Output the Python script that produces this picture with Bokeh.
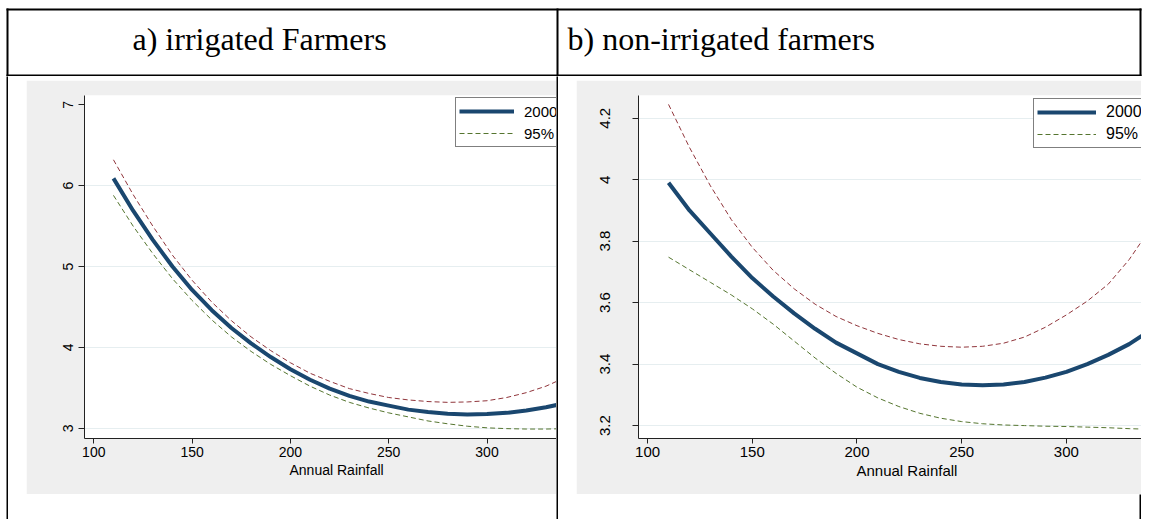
from bokeh.plotting import figure
from bokeh.layouts import row, column
from bokeh.models import (Spacer, Legend, LegendItem, Range1d, FixedTicker,
                          ColumnDataSource, Title)
from bokeh.core.properties import value
from bokeh.embed import file_html
from bokeh.resources import INLINE

# ---------------------------------------------------------------- data
rainfall = [110, 120, 130, 140, 150, 160, 170, 180, 190, 200, 210, 220,
            230, 240, 250, 260, 270, 280, 290, 300, 310, 320, 330, 340]

# a) irrigated farmers: fitted values and 95% band
irr_fit = [6.09, 5.69, 5.33, 5.00, 4.71, 4.46, 4.24, 4.05, 3.88, 3.73, 3.60, 3.49,
           3.40, 3.33, 3.28, 3.23, 3.20, 3.18, 3.17, 3.175, 3.19, 3.22, 3.26, 3.31]
irr_upper = [6.32, 5.89, 5.50, 5.14, 4.83, 4.56, 4.33, 4.13, 3.96, 3.81, 3.68, 3.58,
             3.49, 3.43, 3.38, 3.35, 3.33, 3.32, 3.325, 3.34, 3.38, 3.44, 3.52, 3.63]
irr_lower = [5.88, 5.50, 5.16, 4.85, 4.58, 4.34, 4.13, 3.95, 3.79, 3.65, 3.52, 3.41,
             3.32, 3.25, 3.19, 3.14, 3.09, 3.055, 3.025, 3.005, 2.995, 2.99, 2.99, 2.995]

# b) non-irrigated farmers: fitted values and 95% band
non_fit = [3.99, 3.90, 3.825, 3.75, 3.68, 3.62, 3.565, 3.515, 3.47, 3.435, 3.40, 3.375,
           3.355, 3.342, 3.334, 3.331, 3.334, 3.342, 3.356, 3.375, 3.40, 3.43, 3.465, 3.51]
non_upper = [4.245, 4.105, 3.98, 3.87, 3.78, 3.705, 3.645, 3.595, 3.555, 3.525, 3.50, 3.48,
             3.466, 3.458, 3.455, 3.458, 3.468, 3.488, 3.52, 3.56, 3.605, 3.66, 3.74, 3.84]
non_lower = [3.748, 3.707, 3.666, 3.625, 3.58, 3.53, 3.475, 3.42, 3.37, 3.325, 3.29, 3.262,
             3.24, 3.224, 3.213, 3.206, 3.202, 3.20, 3.198, 3.197, 3.195, 3.193, 3.19, 3.188]

x_ticks = [100, 150, 200, 250, 300, 350]
irr_y_ticks = [3, 4, 5, 6, 7]
irr_grid_ticks = [3, 4, 5, 6]
non_y_ticks = [3.2, 3.4, 3.6, 3.8, 4.0, 4.2]
panel_titles = ["a) irrigated Farmers", "b) non-irrigated farmers"]
legend_labels = ["2000", "95%"]
x_title = "Annual Rainfall"

# ---------------------------------------------------------------- styles
GRAPH_BG = "#efefef"
FIT_COLOR = "#1a476f"
UPPER_COLOR = "#90353b"
LOWER_COLOR = "#55752f"
GRID_COLOR = "#e6eef0"
SANS = "Liberation Sans"
SERIF = "Liberation Serif"


def blank(width, height, color):
    f = figure(width=width, height=height, toolbar_location=None,
               output_backend="svg", x_axis_type=None, y_axis_type=None,
               min_border=0, background_fill_color=color,
               border_fill_color=color, outline_line_color=None)
    f.grid.visible = False
    return f


def panel(width, border_left, xr, yr, yticks, gridticks, fit, upper, lower,
          font_px, legend_px, glyph_w, legend_xy, ylabel_gap, title_offset):
    p = figure(width=width, height=414, toolbar_location=None,
               output_backend="svg",
               x_range=Range1d(*xr), y_range=Range1d(*yr),
               min_border_left=border_left, min_border_right=0,
               min_border_top=15, min_border_bottom=56,
               background_fill_color="white", border_fill_color=GRAPH_BG,
               outline_line_color=None)
    src = ColumnDataSource(dict(x=rainfall, fit=fit, upper=upper, lower=lower))
    r_up = p.line("x", "upper", source=src, line_color=UPPER_COLOR,
                  line_width=1, line_dash="5 3")
    r_lo = p.line("x", "lower", source=src, line_color=LOWER_COLOR,
                  line_width=1, line_dash="5 3")
    r_fit = p.line("x", "fit", source=src, line_color=FIT_COLOR, line_width=4)

    p.xgrid.visible = False
    p.ygrid.ticker = FixedTicker(ticks=gridticks)
    p.ygrid.grid_line_color = GRID_COLOR
    p.ygrid.grid_line_width = 1

    for ax in (p.xaxis[0], p.yaxis[0]):
        ax.axis_line_color = "#222222"
        ax.axis_line_width = 1
        ax.major_tick_line_color = "#222222"
        ax.major_tick_in = 0
        ax.minor_tick_line_color = None
        ax.major_label_text_font = SANS
        ax.major_label_text_font_size = f"{font_px}px"
        ax.major_label_text_color = "black"

    p.xaxis.ticker = FixedTicker(ticks=x_ticks)
    p.xaxis.major_tick_out = 5
    p.xaxis.major_label_standoff = 3

    # x-axis title, placed for the full (wider) plot region of the graph
    p.add_layout(Title(text=x_title, align="left", offset=title_offset,
                       standoff=0, text_font=SANS, text_font_size=f"{font_px}px",
                       text_font_style="normal", text_color="black"), "below")

    p.yaxis.ticker = FixedTicker(ticks=yticks)
    p.yaxis.major_tick_out = 6
    p.yaxis.major_label_orientation = "parallel"
    p.yaxis.major_label_standoff = ylabel_gap

    legend = Legend(items=[LegendItem(label=legend_labels[0], renderers=[r_fit]),
                           LegendItem(label=legend_labels[1], renderers=[r_lo])],
                    location=legend_xy, orientation="vertical",
                    label_text_font=SANS, label_text_font_size=f"{legend_px}px",
                    label_text_color="black",
                    glyph_width=glyph_w, glyph_height=20, label_height=20,
                    label_standoff=10, padding=3, spacing=2, margin=0,
                    border_line_color="black", border_line_width=1,
                    background_fill_color="white", background_fill_alpha=1)
    p.add_layout(legend)
    return p


# ---------------------------------------------------------------- header row
head = figure(width=1149, height=76, toolbar_location=None, output_backend="svg",
              x_range=Range1d(0, 1149), y_range=Range1d(76, 0),
              x_axis_type=None, y_axis_type=None, min_border=0,
              background_fill_color="white", border_fill_color="white",
              outline_line_color=None)
head.grid.visible = False
rules = dict(left=[6, 6, 6, 556, 1139], right=[1141, 1141, 8, 558, 1141],
             top=[8, 74, 8, 8, 8], bottom=[10, 76, 76, 76, 76])
head.quad(source=ColumnDataSource(rules), left="left", right="right",
          top="top", bottom="bottom", fill_color="black", line_color=None)
head.text(x=[132, 567], y=[38, 38], text=panel_titles,
          text_font=value(SERIF), text_font_size="32px", text_color="black",
          text_align="left", text_baseline="alphabetic")

# ---------------------------------------------------------------- panels
pa = panel(530, 58, (95.27, 335.35), (2.873, 7.115), irr_y_ticks, irr_grid_ticks,
           irr_fit, irr_upper, irr_lower, 14, 15, 55, (371, 291), 5, 205)
pb = panel(565, 62, (95.65, 335.9), (3.158, 4.274), non_y_ticks, non_y_ticks,
           non_fit, non_upper, non_lower, 15, 16, 59, (395, 290), 22, 218)

H = 443
body = row(
    Spacer(width=6, height=H),
    blank(2, H, "black"),
    Spacer(width=18, height=H),
    column(Spacer(width=530, height=4), pa, Spacer(width=530, height=25)),
    blank(2, H, "black"),
    Spacer(width=18, height=H),
    column(Spacer(width=565, height=4), pb,
           row(Spacer(width=563, height=25), blank(2, 25, "black"))),
    Spacer(width=8, height=H),
)

page = column(head, body)

with open("out.html", "w") as fh:
    fh.write(file_html(page, INLINE))
